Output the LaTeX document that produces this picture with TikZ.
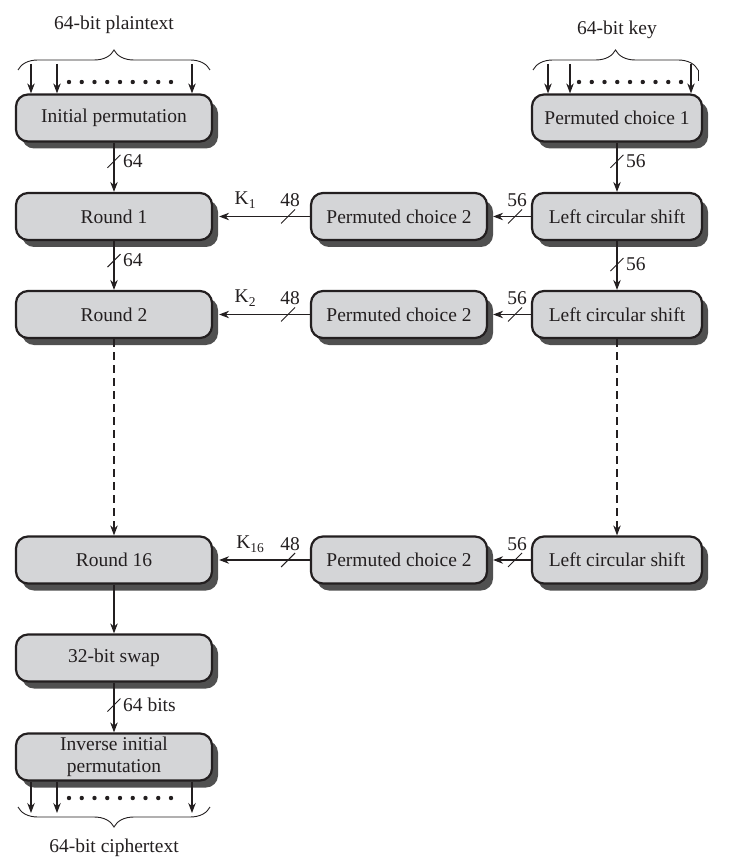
\documentclass[tikz,border=0pt]{standalone}
\usepackage{fontspec}
\setmainfont{Liberation Serif}
\usetikzlibrary{arrows.meta,shadows,decorations.pathreplacing,calc}
\definecolor{boxgray}{RGB}{212,213,215}
\definecolor{shadowgray}{RGB}{80,80,80}
\definecolor{ink}{RGB}{35,31,32}
\newcommand{\Ksub}[1]{K\raisebox{-0.45ex}{\fontsize{13.5}{13.5}\selectfont #1}}
\begin{document}
\begin{tikzpicture}[x=1pt,y=1pt,
  font=\fontsize{19.5}{22}\selectfont,
  blk/.style={draw=ink, line width=2.2pt, rounded corners=12pt, fill=boxgray,
    minimum height=47pt, inner sep=2pt, text=ink, align=center,
    drop shadow={shadow xshift=6pt, shadow yshift=-7pt, opacity=1, fill=shadowgray}},
  lw/.style={blk, minimum width=196pt},
  rw/.style={blk, minimum width=170pt},
  mw/.style={blk, minimum width=176pt},
  arr/.style={draw=ink, line width=1.1pt, -{Stealth[length=10pt,width=7.5pt]}},
  dsh/.style={dash pattern=on 8pt off 5pt},
  slashmark/.style={draw=ink, line width=0.9pt},
  lbl/.style={text=ink, inner sep=0pt},
  brc/.style={draw=ink, line width=0.9pt, decorate, decoration={brace, amplitude=20pt}}
]
\useasboundingbox (0,0) rectangle (731,-866);

% left column
\node[lw] (ip) at (114,-118) {Initial permutation};
\node[lw] (r1) at (114,-216.5) {Round 1};
\node[lw] (r2) at (114,-314.5) {Round 2};
\node[lw] (r16) at (114,-560) {Round 16};
\node[lw] (sw) at (114,-658) {32-bit swap};
\node[lw, font=\fontsize{19.5}{22.5}\selectfont] (iip) at (114,-757) {Inverse initial\\permutation};

% right column
\node[rw] (pc1) at (617,-118) {Permuted choice 1};
\node[rw] (ls1) at (617,-216.5) {Left circular shift};
\node[rw] (ls2) at (617,-314.5) {Left circular shift};
\node[rw] (ls16) at (617,-560) {Left circular shift};

% middle column
\node[mw] (pa) at (399,-216.5) {Permuted choice 2};
\node[mw] (pb) at (399,-314.5) {Permuted choice 2};
\node[mw] (pc) at (399,-560) {Permuted choice 2};

% vertical arrows, left
\draw[arr] (ip.south) -- coordinate[pos=0.38] (s1) (r1.north);
\draw[slashmark] ($(s1)+(-6.5,-6.5)$) -- ($(s1)+(6.5,6.5)$);
\node[lbl, anchor=west] (t1) at ($(s1)+(9,0)$) {64};

\draw[arr] (r1.south) -- coordinate[pos=0.40] (s2) (r2.north);
\draw[slashmark] ($(s2)+(-6.5,-6.5)$) -- ($(s2)+(6.5,6.5)$);
\node[lbl, anchor=west] (t2) at ($(s2)+(9,0)$) {64};

\draw[arr, dsh] (r2.south) -- (r16.north);
\draw[arr] (r16.south) -- (sw.north);

\draw[arr] (sw.south) -- coordinate[pos=0.45] (s3) (iip.north);
\draw[slashmark] ($(s3)+(-6.5,-6.5)$) -- ($(s3)+(6.5,6.5)$);
\node[lbl, anchor=west] (t3) at ($(s3)+(9,0)$) {64 bits};

% vertical arrows, right
\draw[arr] (pc1.south) -- coordinate[pos=0.38] (s4) (ls1.north);
\draw[slashmark] ($(s4)+(-6.5,-6.5)$) -- ($(s4)+(6.5,6.5)$);
\node[lbl, anchor=west] (t4) at ($(s4)+(9,0)$) {56};

\draw[arr] (ls1.south) -- coordinate[pos=0.48] (s5) (ls2.north);
\draw[slashmark] ($(s5)+(-6.5,-6.5)$) -- ($(s5)+(6.5,6.5)$);
\node[lbl, anchor=west] (t5) at ($(s5)+(9,0)$) {56};

\draw[arr, dsh] (ls2.south) -- (ls16.north);

% horizontal arrows: shift -> PC2
\draw[arr] (ls1.west) -- coordinate[pos=0.42] (h1) ([xshift=5pt]pa.east);
\draw[slashmark] ($(h1)+(-7,-7)$) -- ($(h1)+(7,7)$);
\node[lbl] (u1) at ($(h1)+(2,16)$) {56};
\draw[arr] (ls2.west) -- coordinate[pos=0.42] (h2) ([xshift=5pt]pb.east);
\draw[slashmark] ($(h2)+(-7,-7)$) -- ($(h2)+(7,7)$);
\node[lbl] (u2) at ($(h2)+(2,16)$) {56};
\draw[arr] (ls16.west) -- coordinate[pos=0.42] (h3) ([xshift=5pt]pc.east);
\draw[slashmark] ($(h3)+(-7,-7)$) -- ($(h3)+(7,7)$);
\node[lbl] (u3) at ($(h3)+(2,16)$) {56};

% horizontal arrows: PC2 -> rounds
\draw[arr] (pa.west) -- coordinate[pos=0.24] (k1) ([xshift=6pt]r1.east);
\draw[slashmark] ($(k1)+(-7,-7)$) -- ($(k1)+(7,7)$);
\node[lbl] (v1) at ($(k1)+(2,16)$) {48};
\node[lbl] (w1) at ($(k1)+(-43,16)$) {\Ksub{1}};
\draw[arr] (pb.west) -- coordinate[pos=0.24] (k2) ([xshift=6pt]r2.east);
\draw[slashmark] ($(k2)+(-7,-7)$) -- ($(k2)+(7,7)$);
\node[lbl] (v2) at ($(k2)+(2,16)$) {48};
\node[lbl] (w2) at ($(k2)+(-43,16)$) {\Ksub{2}};
\draw[arr] (pc.west) -- coordinate[pos=0.24] (k3) ([xshift=6pt]r16.east);
\draw[slashmark] ($(k3)+(-7,-7)$) -- ($(k3)+(7,7)$);
\node[lbl] (v3) at ($(k3)+(2,16)$) {48};
\node[lbl] (w3) at ($(k3)+(-38,16)$) {\Ksub{16}};

% top left input
\node[lbl] (tp) at (114,-25) {64-bit plaintext};
\draw[brc] (18,-70) -- (210,-70);
\foreach \x [count=\n] in {31,57,192} {
  \coordinate (pi\n) at (\x,-64);
  \draw[arr] (pi\n) -- (pi\n |- ip.north);
}
\foreach \i in {0,...,8} \fill[ink] (69+\i*12.75,-82) circle (2.2pt);

% top right input
\node[lbl] (tk) at (617,-30) {64-bit key};
\draw[brc] (533,-70) -- (698,-70);
\draw[ink, line width=0.9pt] (698,-70) -- (698,-81);
\foreach \x [count=\n] in {548,570,691} {
  \coordinate (ki\n) at (\x,-64);
  \draw[arr] (ki\n) -- (ki\n |- pc1.north);
}
\foreach \i in {0,...,8} \fill[ink] (579+\i*12.75,-82) circle (2.2pt);

% bottom output
\foreach \x [count=\n] in {31,57,192} {
  \coordinate (co\n) at (\x,-813);
  \draw[arr] (co\n |- iip.south) -- (co\n);
}
\foreach \i in {0,...,8} \fill[ink] (69+\i*12.75,-798) circle (2.2pt);
\draw[brc] (210,-807) -- (18,-807);
\node[lbl] (tc) at (114,-848) {64-bit ciphertext};
\end{tikzpicture}
\end{document}
